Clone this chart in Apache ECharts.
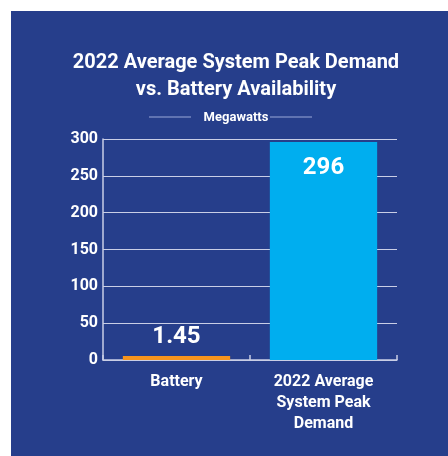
<!DOCTYPE html>
<html>
<head>
<meta charset="utf-8">
<script src="https://cdn.jsdelivr.net/npm/echarts@6/dist/echarts.min.js"></script>
<style>
html,body{margin:0;padding:0;background:#ffffff;}
#chart{width:448px;height:456px;}
</style>
</head>
<body>
<div id="chart"></div>
<script>
const categories = ['Battery', '2022 Average\nSystem Peak\nDemand'];
const values = [1.45, 296];
const valueLabels = ['1.45', '296'];
const barColors = ['#f7941d', '#00aeef'];
const yTicks = [0, 50, 100, 150, 200, 250, 300];

const FONT = 'Roboto, "DejaVu Sans Condensed", sans-serif';
const BG = '#263e8b';

const chart = echarts.init(document.getElementById('chart'), null, {renderer: 'canvas'});
chart.setOption({
  backgroundColor: '#ffffff',
  animation: false,
  graphic: [
    {type: 'rect', z: -10, shape: {x: 11, y: 11, width: 437, height: 445}, style: {fill: BG}},
    {type: 'line', shape: {x1: 149, y1: 117, x2: 191, y2: 117}, style: {stroke: '#9aa8d8', lineWidth: 1}},
    {type: 'line', shape: {x1: 270, y1: 117, x2: 312, y2: 117}, style: {stroke: '#9aa8d8', lineWidth: 1}}
  ],
  title: [
    {
      text: '2022 Average System Peak Demand\nvs. Battery Availability',
      left: 231, top: 44, textAlign: 'center',
      textStyle: {color: '#ffffff', fontFamily: FONT, fontWeight: 'bold', fontSize: 20, lineHeight: 27}
    },
    {
      text: 'Megawatts',
      left: 231, top: 106, textAlign: 'center',
      textStyle: {color: '#ffffff', fontFamily: FONT, fontWeight: 'bold', fontSize: 13}
    }
  ],
  grid: {left: 103, right: 51, top: 139, bottom: 96, containLabel: false},
  xAxis: {
    type: 'category',
    data: categories,
    boundaryGap: true,
    axisLine: {show: true, lineStyle: {color: '#c9cee6', width: 1.5}},
    axisTick: {show: true, inside: true, length: 5, lineStyle: {color: '#c9cee6', width: 1.5}},
    axisLabel: {interval: 0, color: '#ffffff', fontFamily: FONT, fontWeight: 'bold', fontSize: 16, lineHeight: 21, margin: 11}
  },
  yAxis: {
    type: 'value',
    min: yTicks[0], max: yTicks[yTicks.length - 1], interval: 50,
    axisLine: {show: true, lineStyle: {color: '#c9cee6', width: 1.5}},
    axisTick: {show: false},
    splitLine: {show: true, lineStyle: {color: '#c9cee6', width: 1.2}},
    axisLabel: {color: '#ffffff', fontFamily: FONT, fontWeight: 'bold', fontSize: 16, margin: 5}
  },
  series: [{
    type: 'bar',
    barWidth: '73%',
    barMinHeight: 4,
    data: values.map((v, i) => ({
      value: v,
      itemStyle: {color: barColors[i]},
      label: {
        show: true,
        position: i === 0 ? 'top' : 'insideTop',
        distance: i === 0 ? 7 : 14,
        formatter: valueLabels[i],
        color: '#ffffff', fontFamily: FONT, fontWeight: 'bold', fontSize: 24
      }
    }))
  }]
});
</script>
</body>
</html>
